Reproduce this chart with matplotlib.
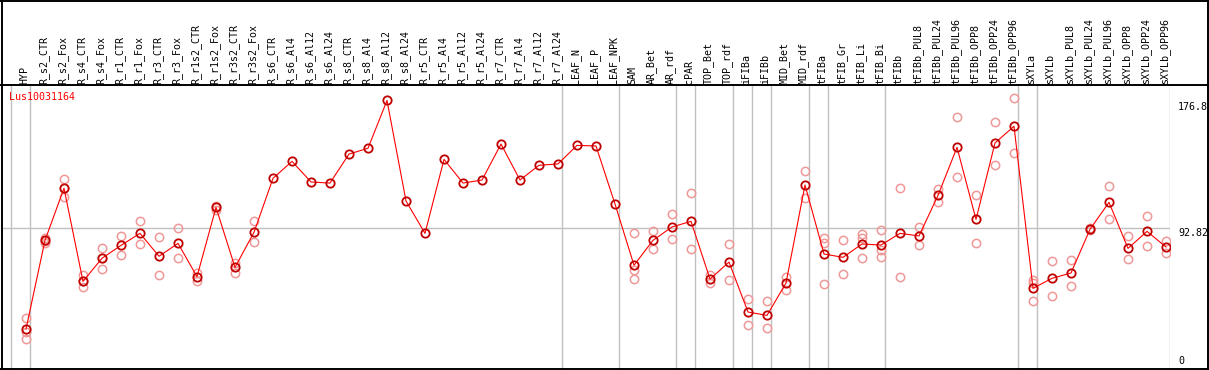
import numpy as np
import matplotlib.pyplot as plt
import matplotlib.transforms as mtransforms
from matplotlib.lines import Line2D

plt.rcParams['font.family'] = ['DejaVu Sans Mono']

gene = 'Lus10031164'

samples = ['HYP', 'R_s2_CTR', 'R_s2_Fox', 'R_s4_CTR', 'R_s4_Fox', 'R_r1_CTR', 'R_r1_Fox',
           'R_r3_CTR', 'R_r3_Fox', 'R_r1s2_CTR', 'R_r1s2_Fox', 'R_r3s2_CTR', 'R_r3s2_Fox',
           'R_s6_CTR', 'R_s6_Al4', 'R_s6_Al12', 'R_s6_Al24', 'R_s8_CTR', 'R_s8_Al4',
           'R_s8_Al12', 'R_s8_Al24', 'R_r5_CTR', 'R_r5_Al4', 'R_r5_Al12', 'R_r5_Al24',
           'R_r7_CTR', 'R_r7_Al4', 'R_r7_Al12', 'R_r7_Al24', 'LEAF_N', 'LEAF_P', 'LEAF_NPK',
           'SAM', 'AR_Bet', 'AR_rdf', 'cPAR', 'TOP_Bet', 'TOP_rdf', 'iFIBa', 'iFIBb',
           'MID_Bet', 'MID_rdf', 'tFIBa', 'tFIB_Gr', 'tFIB_Li', 'tFIB_Bi', 'tFIBb',
           'tFIBb_PUL8', 'tFIBb_PUL24', 'tFIBb_PUL96', 'tFIBb_OPP8', 'tFIBb_OPP24',
           'tFIBb_OPP96', 'sXYLa', 'sXYLb', 'sXYLb_PUL8', 'sXYLb_PUL24', 'sXYLb_PUL96',
           'sXYLb_OPP8', 'sXYLb_OPP24', 'sXYLb_OPP96']

# mean expression per sample
means = [26.3, 84.7, 119.0, 57.7, 72.9, 81.4, 89.3, 74.2, 82.7, 60.8, 106.4, 66.9, 90.0,
         125.5, 136.7, 123.1, 122.4, 141.5, 145.3, 176.8, 110.6, 89.3, 138.0, 122.4, 124.4,
         148.1, 124.4, 134.1, 135.0, 147.2, 146.8, 108.6,
         68.3, 84.7, 93.5, 97.2, 59.2, 70.4, 37.5, 35.3, 56.6, 121.1, 75.7, 73.5, 82.3,
         81.6, 89.3, 87.6, 114.3, 145.9, 98.5, 148.8, 159.8, 53.1, 59.7, 63.2, 92.0,
         109.7, 79.4, 90.6, 80.3]

# replicate values (empty where only the mean is shown)
reps = [[33.4, 24.6, 19.5], [86.0, 84.0, 83.0], [124.9, 119.0, 113.0], [61.6, 57.7, 53.8],
        [79.4, 72.9, 65.6], [87.3, 74.8], [97.2, 82.1], [86.7, 61.6], [92.8, 72.9],
        [63.0, 58.1], [107.5, 104.5], [70.0, 63.4], [97.2, 83.4],
        [], [], [], [], [], [], [], [], [], [], [], [], [], [], [], [], [], [], [],
        [89.3, 65.2, 59.5], [90.8, 78.8], [101.8, 85.4], [115.6, 78.8], [61.9, 56.8],
        [82.3, 58.4], [45.9, 28.7], [44.8, 26.8], [60.6, 52.2], [130.3, 112.4],
        [86.4, 83.1, 55.7], [84.7, 62.3], [88.9, 86.0, 72.9], [91.3, 78.3, 73.9],
        [119.0, 60.4], [93.2, 81.4], [118.5, 110.2], [165.7, 126.2], [114.3, 82.7],
        [162.4, 134.1], [178.2, 142.0], [58.6, 56.8, 44.8], [70.9, 48.1], [71.6, 54.4],
        [92.8, 91.2], [120.3, 98.5], [87.6, 72.2], [100.7, 81.0], [84.3, 76.6]]

# group separators sit just right of these samples
group_ends = [-1, 0, 28, 31, 34, 35, 37, 38, 39, 41, 42, 45, 52, 53, 60]

ymax_label = '176.8'
ymid_label = '92.82'
ymid = 92.82

W, H = 1209, 370
fig = plt.figure(figsize=(W / 100, H / 100), dpi=100)
ax = fig.add_axes([2 / W, 1 / H, (1170 - 2) / W, (369 - 86) / H])

x = np.arange(len(samples))
ax.set_xlim(-1.263, 60.21)
ax.set_ylim(0, 186.3)

for g in group_ends:
    ax.axvline(g + 0.22, color='#c0c0c0', lw=1, zorder=1)
ax.axhline(ymid, color='#c0c0c0', lw=1, zorder=1)

rx, ry = [], []
for i, r in enumerate(reps):
    rx += [i] * len(r)
    ry += r
ax.plot(rx, ry, 'o', ms=6, mfc='none', mec='#f09898', mew=1.1, ls='none', zorder=2)

ax.plot(x, means, '-', color='#ff0000', lw=0.8, zorder=3)
ax.plot(x, means, 'o', ms=6, mfc='none', mec='#c00000', mew=1.3, ls='none', zorder=4)

ax.set_xticks([])
ax.set_yticks([])
for s in ax.spines.values():
    s.set_visible(False)

# sample names above the plot
trans = mtransforms.blended_transform_factory(ax.transData, fig.transFigure)
for i, name in enumerate(samples):
    ax.text(i - 0.08, (H - 84) / H, name, transform=trans, rotation=90,
            ha='center', va='bottom', fontsize=7.2, color='black', clip_on=False)

fig.text(9 / W, (H - 97) / H, gene, color='#ff0000', fontsize=7.2, va='center', ha='left')

# value labels on the right
fig.text(1178 / W, (H - 102) / H, ymax_label, fontsize=7.2, va='top', ha='left')
fig.text(1178 / W, (H - 228) / H, ymid_label, fontsize=7.2, va='top', ha='left')
fig.text(1178 / W, (H - 366) / H, '0', fontsize=7.2, va='bottom', ha='left')

# frame
def fline(x0, y0, x1, y1):
    fig.add_artist(Line2D([x0 / W, x1 / W], [(H - y0) / H, (H - y1) / H],
                          color='black', lw=1.4))

fline(0, 0.5, W, 0.5)
fline(1.5, 0, 1.5, H)
fline(W - 1, 0, W - 1, H)
fline(0, 369, W, 369)
fline(0, 85, W, 85)

fig.savefig('out.png', dpi=100)
